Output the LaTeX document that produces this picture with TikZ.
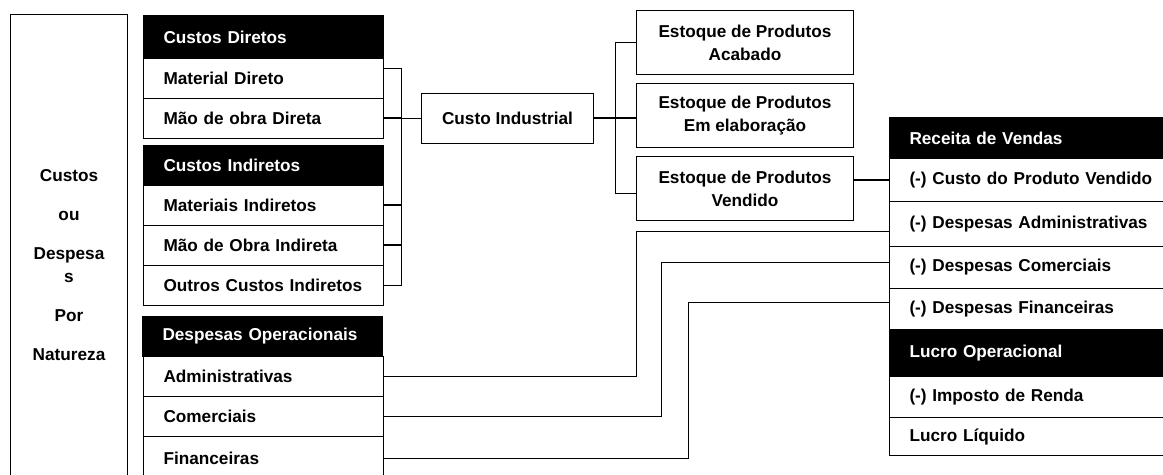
\documentclass[tikz,border=0pt]{standalone}
\usepackage{fontspec}
\setmainfont{Liberation Sans}

\begin{document}
\begin{tikzpicture}[x=0.5pt,y=-0.5pt,
  font=\fontsize{8.6}{11.5}\selectfont\bfseries,
  row/.style={draw=black,line width=0.5pt,fill=white,anchor=north west,
    minimum width=120pt,minimum height=20pt,inner xsep=10pt,inner ysep=0pt,
    text width=100pt,align=left},
  head/.style={row,fill=black,text=white},
  rrow/.style={row,minimum width=146pt,text width=126pt},
  rhead/.style={rrow,fill=black,text=white},
  estbox/.style={draw=black,line width=0.5pt,anchor=north west,minimum width=108.5pt,
    minimum height=32pt,inner sep=0pt,align=center},
  link/.style={line width=0.5pt},
  boldlink/.style={line width=1pt}]
\useasboundingbox (0,0) rectangle (1163,475);

\node[draw=black,line width=0.5pt,anchor=north west,minimum width=58.5pt,minimum height=250.5pt,
  align=center] (nat) at (10,14) {Custos\\[8pt]ou\\[8pt]Despesa\\s\\[8pt]Por\\[8pt]Natureza};

\begin{scope}[shift={(143,0)}]
  \node[head,minimum height=21.5pt] (cd) at (0,15) {Custos Diretos};
  \node[row] (md) at (0,58) {Material Direto};
  \node[row] (mod) at (0,98) {Mão de obra Direta};
  \node[head] (cid) at (0,145) {Custos Indiretos};
  \node[row] (mi) at (0,185) {Materiais Indiretos};
  \node[row] (moi) at (0,225) {Mão de Obra Indireta};
  \node[row] (oci) at (0,265) {Outros Custos Indiretos};
  \node[head] (dop) at (-1,316) {Despesas Operacionais};
  \node[row] (adm) at (0,356) {Administrativas};
  \node[row] (com) at (0,396) {Comerciais};
  \node[row,minimum height=22pt] (fin) at (0,436) {Financeiras};
\end{scope}

\node[draw=black,line width=0.5pt,anchor=north west,minimum width=86pt,minimum height=25pt,
  inner sep=0pt] (ci) at (421,93) {Custo Industrial};

\node[estbox] (e1) at (636,10) {Estoque de Produtos\\Acabado};
\node[estbox] (e2) at (636,83) {Estoque de Produtos\\Em elaboração};
\node[estbox] (e3) at (636,156) {Estoque de Produtos\\Vendido};

\begin{scope}[shift={(889,0)}]
  \node[rhead,minimum height=20.5pt] (rv) at (0,117) {Receita de Vendas};
  \node[rrow,minimum height=21.5pt] (cpv) at (0,158) {(-) Custo do Produto Vendido};
  \node[rrow,minimum height=22.5pt] (dadm) at (0,201) {(-) Despesas Administrativas};
  \node[rrow,minimum height=21pt] (dcom) at (0,246) {(-) Despesas Comerciais};
  \node[rrow,minimum height=20.5pt] (dfin) at (0,288) {(-) Despesas Financeiras};
  \node[rhead,minimum height=23.5pt] (lo) at (0,329) {Lucro Operacional};
  \node[rrow,minimum height=20.5pt] (ir) at (0,376) {(-) Imposto de Renda};
  \node[rrow,minimum height=19pt] (ll) at (0,417) {Lucro Líquido};
\end{scope}

\coordinate (b1) at (401,0);
\coordinate (b2) at (615,0);
\coordinate (ka) at (636,0);
\coordinate (kc) at (661,0);
\coordinate (kf) at (688,0);
\coordinate (mdt) at ([yshift=5pt]md.east);
\coordinate (e3t) at ([yshift=-2.5pt]e3.west);
\coordinate (dadmt) at ([yshift=-3.75pt]dadm.west);
\coordinate (dcomt) at ([yshift=2.5pt]dcom.west);
\coordinate (dfint) at ([yshift=3.25pt]dfin.west);

\draw[link] (mdt) -| (b1 |- oci.east) -- (oci.east);
\draw[boldlink] (mod.east) -- (b1 |- mod.east);
\draw[link] (b1 |- mod.east) -- (ci.west);
\draw[boldlink] (mi.east) -- (b1 |- mi.east);
\draw[boldlink] (moi.east) -- (b1 |- moi.east);

\draw[link] (e1.west) -| (b2 |- e3t) -- (e3t);
\draw[boldlink] (ci.east) -- (ci.east -| e2.west);
\draw[boldlink] (e3.east |- cpv.west) -- (cpv.west);

\draw[link] (adm.east) -| (ka |- dadmt) -- (dadmt);
\draw[link] (com.east) -| (kc |- dcomt) -- (dcomt);
\draw[link] (fin.east) -| (kf |- dfint) -- (dfint);
\end{tikzpicture}
\end{document}
